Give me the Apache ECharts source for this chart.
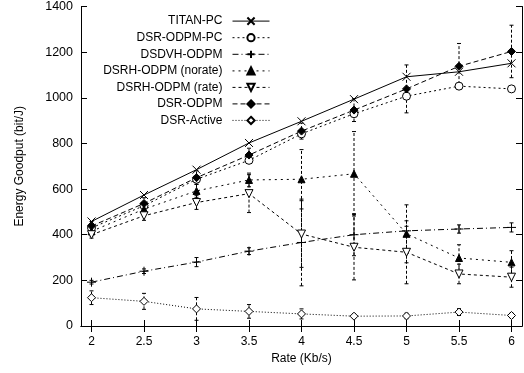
<!DOCTYPE html>
<html><head><meta charset="utf-8">
<script src="https://cdn.jsdelivr.net/npm/echarts@6/dist/echarts.min.js"></script>
<style>html,body{margin:0;padding:0;background:#fff}#c{width:524px;height:373px}</style>
</head><body><div id="c"></div>
<script>
var rates = [2, 2.5, 3, 3.5, 4, 4.5, 5, 5.5, 6];
var xTicks = [2, 2.5, 3, 3.5, 4, 4.5, 5, 5.5, 6];
var titanPC   = [458, 574, 685, 802, 897, 994, 1092, 1114, 1151];
var dsrOdpmPC = [430, 527, 643, 726, 842, 930, 1007, 1051, 1039];
var dsdvhOdpm = [192, 240, 280, 328, 366, 400, 417, 425, 432];
var norate    = [415, 512, 592, 640, 643, 667, 404, 298, 279];
var rateS     = [400, 483, 541, 580, 403, 345, 323, 228, 214];
var dsrOdpm   = [438, 537, 650, 749, 854, 946, 1039, 1138, 1203];
var dsrActive = [124, 108, 75, 64, 53, 43, 44, 61, 46];

var errDsrOdpm = [20, 25, 30, 30, 35, 50, 105, 100, 115];
var errNorate  = [20, 25, 30, 30, 130, 185, 127, 58, 51];
var errRate    = [15, 20, 30, 83, 146, 143, 138, 43, 44];
var errDsdvh   = [8, 10, 20, 15, 190, 92, 20, 18, 20];
var errActive  = [30, 35, 50, 30, 22, 10, 12, 15, 10];

var names = ['TITAN-PC','DSR-ODPM-PC','DSDVH-ODPM','DSRH-ODPM (norate)','DSRH-ODPM (rate)','DSR-ODPM','DSR-Active'];

function pairs(v){ return rates.map(function(r,i){return [r, v[i]];}); }
function errPairs(v,e){ return rates.map(function(r,i){return [r, v[i]-e[i], v[i]+e[i]];}); }

var F = 'Liberation Sans, Arial, sans-serif';
var crossPath = 'path://M0,0L10,10M10,0L0,10';
var plusPath = 'path://M5,0L5,10M0,5L10,5';

function lineSeries(name, data, symbol, fill, dash, size, rot){
  return {
    type:'line', name:name, data:pairs(data), symbol:symbol, symbolSize:size||8,
    symbolRotate: rot||0,
    itemStyle:{color:fill, borderColor:'#000', borderWidth:1},
    lineStyle:{color:'#000', width:1, type:dash},
    emphasis:{disabled:true}, animation:false, z:3
  };
}
function errSeries(data){
  return {
    type:'custom', data:data, animation:false, silent:true, z:2,
    renderItem:function(params, api){
      var x = api.value(0);
      var lo = api.coord([x, api.value(1)]);
      var hi = api.coord([x, api.value(2)]);
      var st = {stroke:'#000', lineWidth:1, lineDash:[3,2]};
      return {type:'group', children:[
        {type:'line', shape:{x1:lo[0],y1:lo[1],x2:hi[0],y2:hi[1]}, style:st},
        {type:'line', shape:{x1:lo[0]-2,y1:lo[1],x2:lo[0]+2,y2:lo[1]}, style:{stroke:'#000',lineWidth:1}},
        {type:'line', shape:{x1:hi[0]-2,y1:hi[1],x2:hi[0]+2,y2:hi[1]}, style:{stroke:'#000',lineWidth:1}}
      ]};
    }
  };
}

var chart = echarts.init(document.getElementById('c'), null, {renderer:'canvas'});
var axisLine = {show:true, lineStyle:{color:'#000', width:1}};
chart.setOption({
  animation:false,
  textStyle:{fontFamily:F},
  grid:{left:81, right:2, top:5, bottom:47, containLabel:false},
  legend:{
    data:names, orient:'vertical', right:249, top:10, align:'right',
    itemWidth:37, itemHeight:9, itemGap:4.5, selectedMode:false,
    lineStyle:{width:1},
    textStyle:{fontFamily:F, fontSize:12, color:'#000', padding:[0,5,0,0]}
  },
  xAxis:[
    {type:'value', min:1.9, max:6.1, position:'bottom',
     name:'Rate (Kb/s)', nameLocation:'middle', nameGap:27,
     nameTextStyle:{fontFamily:F, fontSize:12, color:'#000'},
     axisLine:axisLine, splitLine:{show:false},
     axisTick:{show:true, inside:true, length:6, customValues:xTicks, lineStyle:{color:'#000'}},
     axisLabel:{customValues:xTicks, fontFamily:F, fontSize:12, color:'#000', margin:10}},
    {type:'value', min:1.9, max:6.1, position:'top',
     axisLine:axisLine, splitLine:{show:false},
     axisTick:{show:true, inside:true, length:6, customValues:xTicks, lineStyle:{color:'#000'}},
     axisLabel:{show:false}}
  ],
  yAxis:[
    {type:'value', min:0, max:1400, interval:200, position:'left',
     name:'Energy Goodput (bit/J)', nameLocation:'middle', nameGap:55,
     nameTextStyle:{fontFamily:F, fontSize:12, color:'#000'},
     axisLine:axisLine, splitLine:{show:false},
     axisTick:{show:true, inside:true, length:6, lineStyle:{color:'#000'}},
     axisLabel:{fontFamily:F, fontSize:12.5, color:'#000', margin:8,
       formatter:function(v){return String(v);}}},
    {type:'value', min:0, max:1400, interval:200, position:'right',
     axisLine:axisLine, splitLine:{show:false},
     axisTick:{show:true, inside:true, length:6, lineStyle:{color:'#000'}},
     axisLabel:{show:false}}
  ],
  series:[
    errSeries(errPairs(dsrOdpm, errDsrOdpm)),
    errSeries(errPairs(norate, errNorate)),
    errSeries(errPairs(rateS, errRate)),
    errSeries(errPairs(dsdvhOdpm, errDsdvh)),
    errSeries(errPairs(dsrActive, errActive)),
    lineSeries(names[0], titanPC, crossPath, 'none', 'solid', 8),
    lineSeries(names[1], dsrOdpmPC, 'circle', '#fff', [2,3], 8),
    lineSeries(names[2], dsdvhOdpm, plusPath, 'none', [6,3,1,3], 9),
    lineSeries(names[3], norate, 'triangle', '#000', [2,4], 7),
    lineSeries(names[4], rateS, 'triangle', '#fff', [3,3], 8, 180),
    lineSeries(names[5], dsrOdpm, 'diamond', '#000', [5,3], 8),
    lineSeries(names[6], dsrActive, 'diamond', '#fff', [1,2], 8)
  ]
});
</script></body></html>
